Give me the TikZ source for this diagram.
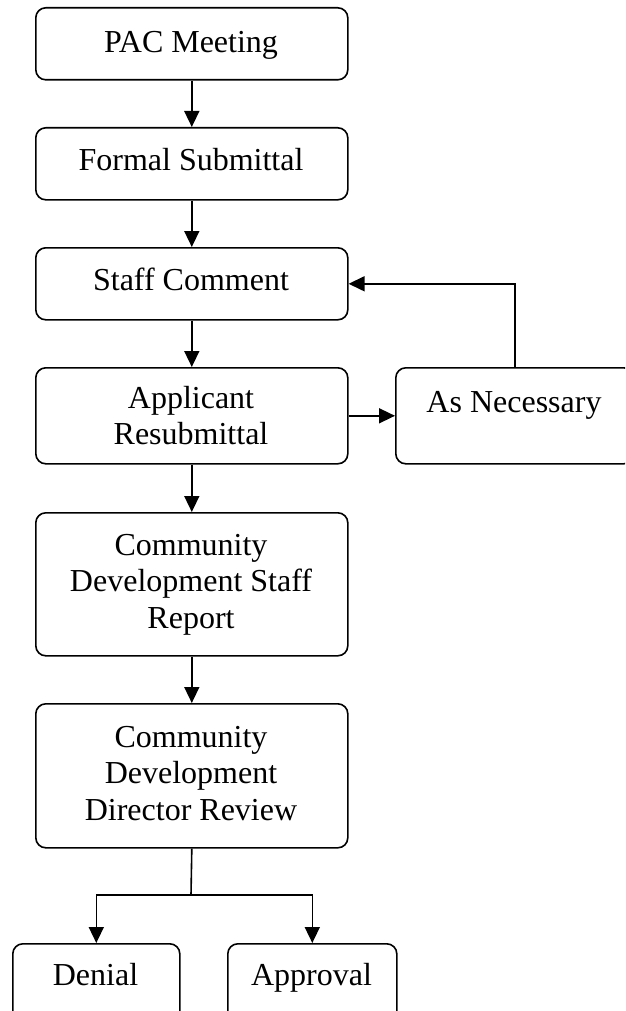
\documentclass[tikz,border=0pt]{standalone}
\usepackage{fontspec}
\setmainfont{Liberation Serif}
\usetikzlibrary{arrows.meta}
\begin{document}
\begin{tikzpicture}[x=1pt,y=-1pt,
  box/.style={draw, line width=1.6pt, rounded corners=10pt, inner sep=0pt, anchor=north west},
  txt/.style={anchor=north, inner sep=0pt, align=center, font=\fontsize{32}{36.5}\selectfont},
  link/.style={line width=1.6pt},
  arr/.style={link, -{Triangle[length=16pt,width=15pt]}}]
\useasboundingbox (0,0) rectangle (625,1011);
\clip (0,0) rectangle (625,1011);
% boxes
\node[box, minimum width=312pt, minimum height=72pt] (pac) at (35,7) {};
\node[txt] (pacT) at (191,26) {\rule{0pt}{26pt}PAC Meeting};
\node[box, minimum width=312pt, minimum height=72pt] (formal) at (35,127) {};
\node[txt] (formalT) at (191,144) {\rule{0pt}{26pt}Formal Submittal};
\node[box, minimum width=312pt, minimum height=72pt] (staff) at (35,247) {};
\node[txt] (staffT) at (191,264) {\rule{0pt}{26pt}Staff Comment};
\node[box, minimum width=312pt, minimum height=96pt] (applicant) at (35,367) {};
\node[txt] (applicantT) at (191,382) {\rule{0pt}{26pt}Applicant\\Resubmittal};
\node[box, minimum width=238pt, minimum height=96pt] (asnec) at (395,367) {};
\node[txt] (asnecT) at (514,386) {\rule{0pt}{26pt}As Necessary};
\node[box, minimum width=312pt, minimum height=143pt] (cdstaff) at (35,512) {};
\node[txt] (cdstaffT) at (191,529) {\rule{0pt}{26pt}Community\\Development Staff\\Report};
\node[box, minimum width=312pt, minimum height=144pt] (director) at (35,703) {};
\node[txt] (directorT) at (191,721) {\rule{0pt}{26pt}Community\\Development\\Director Review};
\node[box, minimum width=167pt, minimum height=90pt] (denial) at (12,943) {};
\node[txt] (denialT) at (95.5,959) {\rule{0pt}{26pt}Denial};
\node[box, minimum width=169pt, minimum height=90pt] (approval) at (227,943) {};
\node[txt] (approvalT) at (311.5,959) {\rule{0pt}{26pt}Approval};
% connectors
\draw[arr] (pac.south) -- (formal.north);
\draw[arr] (formal.south) -- (staff.north);
\draw[arr] (staff.south) -- (applicant.north);
\draw[arr] (applicant.east) -- (asnec.west);
\draw[arr] (asnec.north) |- (staff.east);
\draw[arr] (applicant.south) -- (cdstaff.north);
\draw[arr] (cdstaff.south) -- (director.north);
\coordinate (split) at (191,895);
\draw[link] (director.south) -- (split);
\draw[arr] (split) -| (denial.north);
\draw[arr] (split) -| (approval.north);
\end{tikzpicture}
\end{document}
